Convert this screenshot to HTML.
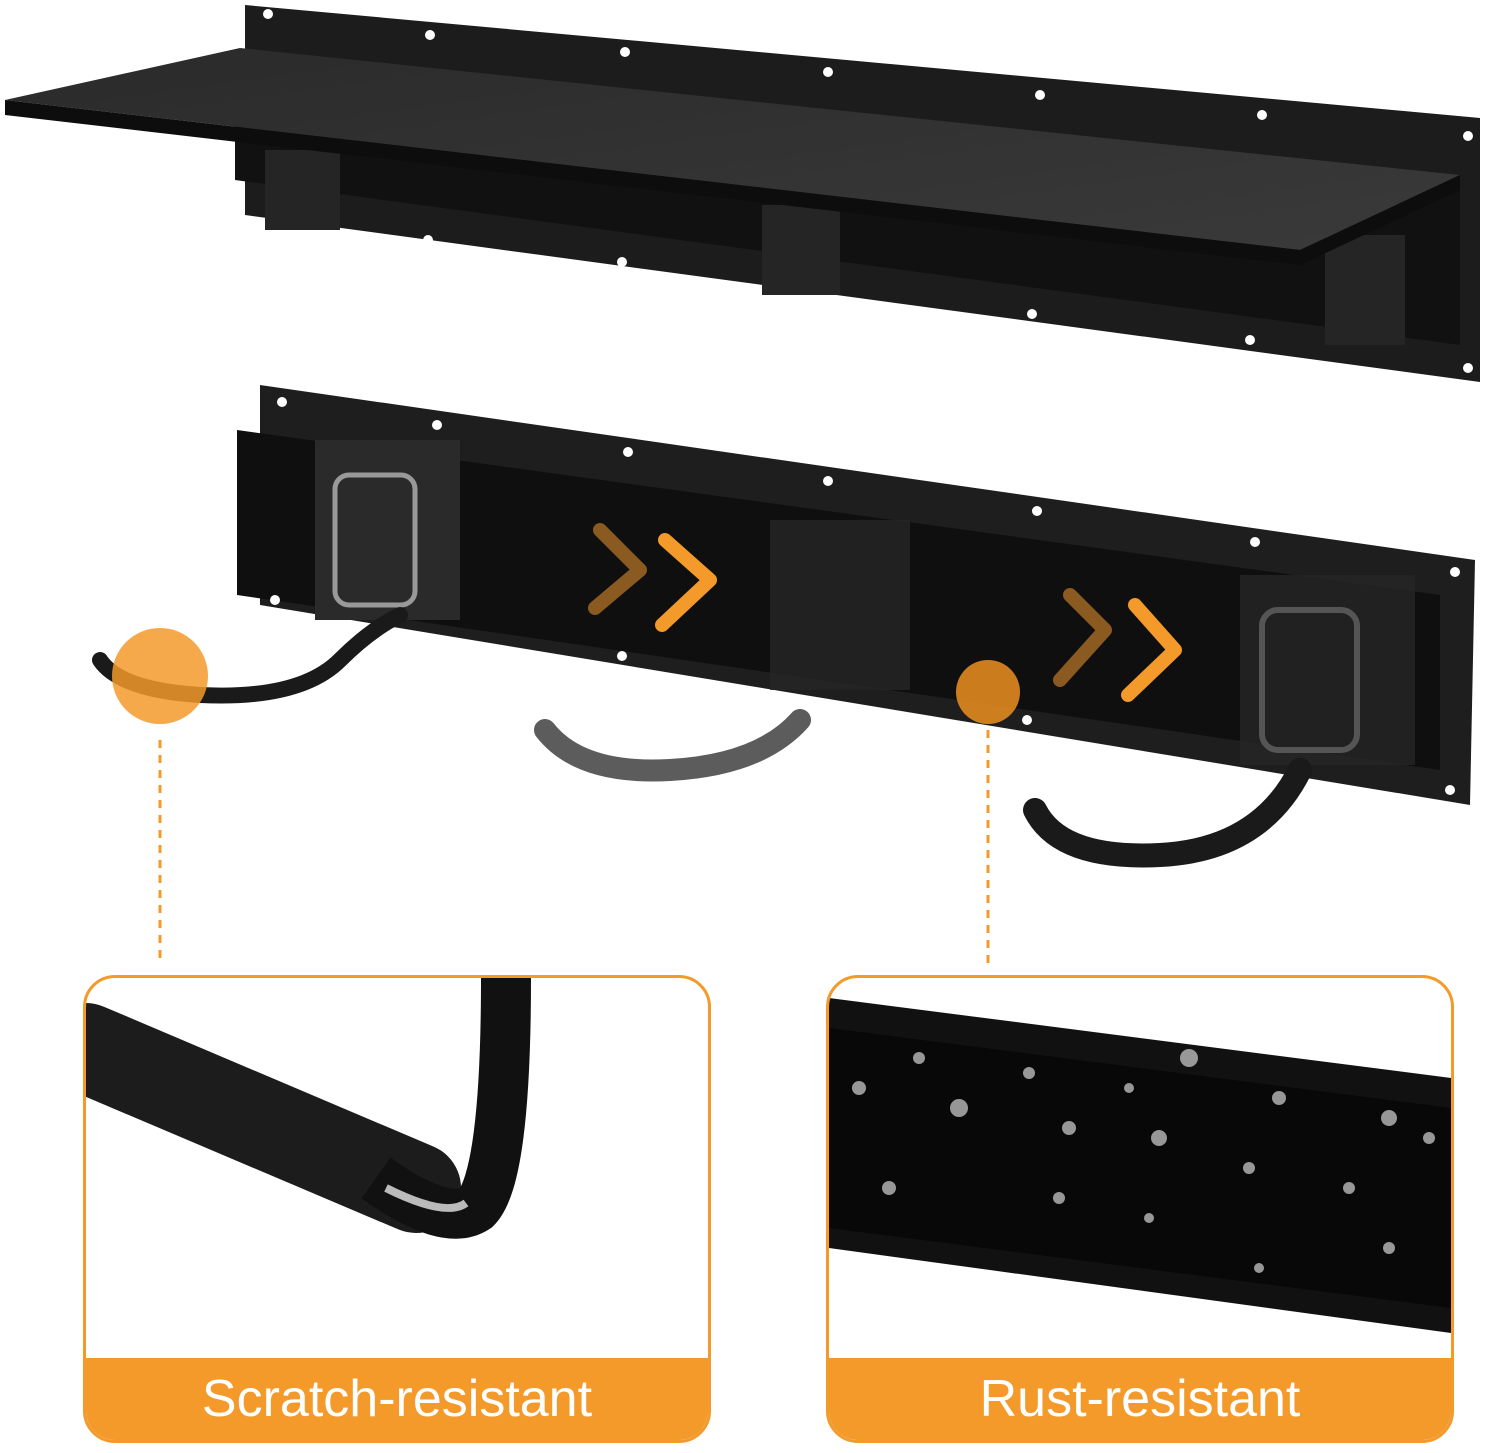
<!DOCTYPE html>
<html><head><meta charset="utf-8"><style>
html,body{margin:0;padding:0;background:#fff;}
body{width:1500px;height:1453px;overflow:hidden;position:relative;font-family:"Liberation Sans",sans-serif;}
.box{position:absolute;top:975px;width:622px;height:462px;border:3px solid #f39a2b;border-radius:32px;overflow:hidden;background:#fff;}
.bar{position:absolute;left:0;right:0;bottom:0;height:82px;background:#f39a2b;color:#fff;font-size:52px;text-align:center;line-height:82px;}
</style></head><body>
<svg width="1500" height="1453" style="position:absolute;left:0;top:0">
<defs>
<linearGradient id="sh" x1="0" y1="0" x2="1" y2="1"><stop offset="0" stop-color="#2a2a2a"/><stop offset="1" stop-color="#3a3a3a"/></linearGradient>
</defs>
<!-- top rail -->
<polygon points="245,5 1480,118 1480,382 245,215" fill="#1c1c1c"/>
<polygon points="235,60 1460,175 1460,345 235,180" fill="#111"/>
<g fill="#fff">
<circle cx="268" cy="14" r="5"/><circle cx="430" cy="35" r="5"/><circle cx="625" cy="52" r="5"/><circle cx="828" cy="72" r="5"/><circle cx="1040" cy="95" r="5"/><circle cx="1262" cy="115" r="5"/><circle cx="1468" cy="136" r="5"/>
<circle cx="270" cy="205" r="5"/><circle cx="428" cy="240" r="5"/><circle cx="622" cy="262" r="5"/><circle cx="1032" cy="314" r="5"/><circle cx="1250" cy="340" r="5"/><circle cx="1468" cy="368" r="5"/>
</g>
<rect x="265" y="150" width="75" height="80" fill="#252525"/>
<rect x="762" y="205" width="78" height="90" fill="#252525"/>
<rect x="1325" y="235" width="80" height="110" fill="#252525"/>
<!-- shelf -->
<polygon points="5,100 240,48 1460,175 1300,250" fill="url(#sh)"/>
<polygon points="5,100 1300,250 1300,265 5,115" fill="#0d0d0d"/>
<polygon points="1300,250 1460,175 1460,190 1300,265" fill="#0d0d0d"/>
<!-- second rail -->
<polygon points="260,385 1475,560 1470,805 260,605" fill="#1e1e1e"/>
<polygon points="237,430 1440,595 1440,770 237,595" fill="#0f0f0f"/>
<g fill="#fff">
<circle cx="282" cy="402" r="5"/><circle cx="437" cy="425" r="5"/><circle cx="628" cy="452" r="5"/><circle cx="828" cy="481" r="5"/><circle cx="1037" cy="511" r="5"/><circle cx="1255" cy="542" r="5"/><circle cx="1455" cy="572" r="5"/>
<circle cx="275" cy="600" r="5"/><circle cx="622" cy="656" r="5"/><circle cx="1027" cy="720" r="5"/><circle cx="1450" cy="790" r="5"/>
</g>
<rect x="315" y="440" width="145" height="180" fill="#2a2a2a"/>
<rect x="335" y="475" width="80" height="130" rx="14" fill="none" stroke="#999" stroke-width="5"/>
<rect x="770" y="520" width="140" height="170" fill="#262626" opacity=".8"/>
<rect x="1240" y="575" width="175" height="190" fill="#262626" opacity=".8"/>
<rect x="1262" y="610" width="95" height="140" rx="16" fill="none" stroke="#555" stroke-width="6"/>
<!-- hooks -->
<path d="M100,660 Q120,690 200,695 Q300,700 340,660 Q370,630 400,615" fill="none" stroke="#1a1a1a" stroke-width="16" stroke-linecap="round"/>
<path d="M545,730 Q580,775 670,770 Q760,765 800,720" fill="none" stroke="#333" stroke-width="22" stroke-linecap="round" opacity=".8"/>
<path d="M1035,810 Q1060,860 1160,855 Q1260,850 1300,770" fill="none" stroke="#1a1a1a" stroke-width="24" stroke-linecap="round"/>
<!-- chevrons -->
<g fill="none" stroke-width="14" stroke-linecap="round" stroke-linejoin="round">
<polyline points="600,530 640,570 595,608" stroke="#8a5a20"/>
<polyline points="665,540 710,580 662,625" stroke="#f39a2b"/>
<polyline points="1070,595 1105,630 1060,680" stroke="#8a5a20"/>
<polyline points="1135,605 1175,650 1128,695" stroke="#f39a2b"/>
</g>
<circle cx="160" cy="676" r="48" fill="#f39a2b" opacity=".85"/>
<circle cx="988" cy="692" r="32" fill="#e08a20" opacity=".9"/>
<line x1="160" y1="740" x2="160" y2="965" stroke="#f39a2b" stroke-width="3" stroke-dasharray="8,7"/>
<line x1="988" y1="730" x2="988" y2="965" stroke="#f39a2b" stroke-width="3" stroke-dasharray="8,7"/>
</svg>
<div class="box" style="left:83px">
<svg width="622" height="400" style="position:absolute;left:0;top:0">
<path d="M0,70 L330,210" stroke="#1c1c1c" stroke-width="90" stroke-linecap="round"/>
<path d="M290,200 Q360,250 390,230 Q420,200 420,0" fill="none" stroke="#111" stroke-width="50"/>
<path d="M300,210 Q360,240 380,225" fill="none" stroke="#bbb" stroke-width="8"/>
</svg>
<div class="bar">Scratch-resistant</div>
</div>
<div class="box" style="left:826px">
<svg width="622" height="400" style="position:absolute;left:0;top:0">
<polygon points="0,20 622,100 622,355 0,270" fill="#111"/>
<polygon points="0,50 622,130 622,330 0,250" fill="#080808"/>
<g fill="#bbb" opacity=".8">
<circle cx="30" cy="110" r="7"/><circle cx="90" cy="80" r="6"/><circle cx="130" cy="130" r="9"/><circle cx="200" cy="95" r="6"/><circle cx="240" cy="150" r="7"/><circle cx="300" cy="110" r="5"/><circle cx="330" cy="160" r="8"/><circle cx="360" cy="80" r="9"/><circle cx="420" cy="190" r="6"/><circle cx="450" cy="120" r="7"/><circle cx="520" cy="210" r="6"/><circle cx="560" cy="140" r="8"/><circle cx="600" cy="160" r="6"/><circle cx="60" cy="210" r="7"/><circle cx="230" cy="220" r="6"/><circle cx="320" cy="240" r="5"/><circle cx="560" cy="270" r="6"/><circle cx="430" cy="290" r="5"/>
</g>
</svg>
<div class="bar">Rust-resistant</div>
</div>
</body></html>
